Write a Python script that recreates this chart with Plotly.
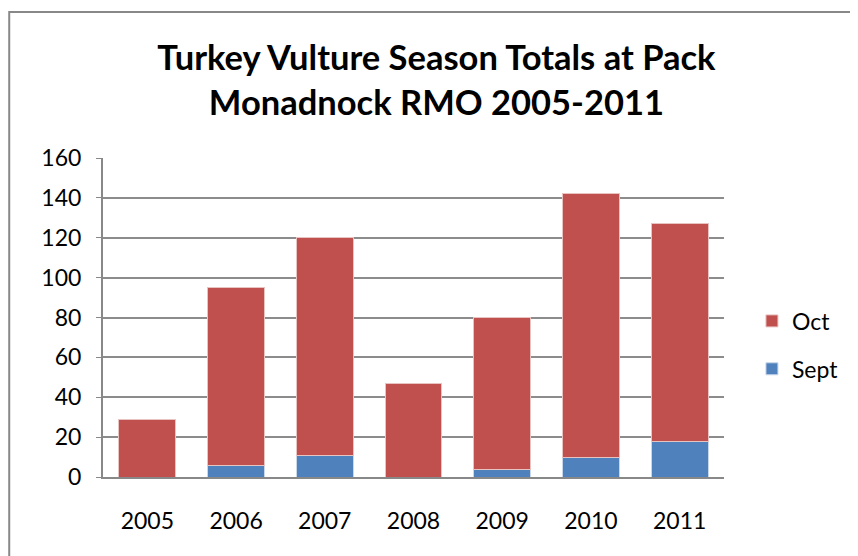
import plotly.graph_objects as go

years = ["2005", "2006", "2007", "2008", "2009", "2010", "2011"]
sept = [0, 6, 11, 0, 4, 10, 18]
octo = [29, 89, 109, 47, 76, 132, 109]
y_ticks = [0, 20, 40, 60, 80, 100, 120, 140, 160]

FONT = "Lato, Open Sans, sans-serif"

fig = go.Figure()
fig.add_trace(go.Bar(x=years, y=sept, name="Sept", legendgroup="s", legendrank=2,
                     marker=dict(color="#4F81BD", line=dict(color="#C9D7EA", width=1))))
fig.add_trace(go.Bar(x=years, y=octo, name="Oct", legendgroup="o", legendrank=1,
                     marker=dict(color="#C0504D", line=dict(color="#E8C3C2", width=1))))

fig.update_layout(
    width=850, height=548,
    barmode="stack", bargap=0.36,
    plot_bgcolor="white", paper_bgcolor="white",
    margin=dict(l=95, r=134, t=150, b=79),
    title=dict(text="<b>Turkey Vulture Season Totals at Pack<br>Monadnock RMO 2005-2011</b>",
               x=0.504, xanchor="center", y=0.887, yanchor="top",
               font=dict(family=FONT, size=34.5, color="black")),
    font=dict(family=FONT, size=23, color="black"),
    legend=dict(traceorder="grouped", tracegroupgap=15,
                x=1.045, xanchor="left", y=0.414, yanchor="middle",
                font=dict(size=23), itemwidth=30),
    showlegend=True,
)
fig.update_xaxes(showline=True, linecolor="#888888", linewidth=2, ticks="",
                 tickfont=dict(size=23), ticklabelstandoff=22)
fig.update_yaxes(range=[0, 160], tickvals=y_ticks, showgrid=True, gridcolor="#8C8C8C",
                 gridwidth=1.5, showline=True, linecolor="#888888", linewidth=2,
                 ticks="outside", ticklen=5, tickcolor="#888888", ticklabelstandoff=10,
                 tickfont=dict(size=23), zeroline=False)

fig.add_shape(type="rect", xref="paper", yref="paper",
              x0=-0.151, x1=1.3, y0=-0.3, y1=1.458,
              line=dict(color="#888888", width=2), fillcolor="rgba(0,0,0,0)", layer="below")

fig.write_html("out.html")
